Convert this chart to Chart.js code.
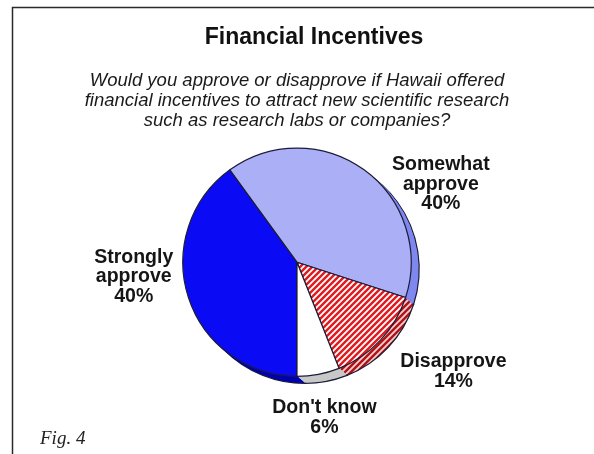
<!DOCTYPE html>
<html>
<head>
<meta charset="utf-8">
<title>Financial Incentives</title>
<script src="https://cdn.jsdelivr.net/npm/chart.js@4.4.1/dist/chart.umd.min.js"></script>
<style>
  html, body { margin: 0; padding: 0; background: #fff; }
  #wrap { position: relative; width: 594px; height: 454px; }
</style>
</head>
<body>
<div id="wrap"><canvas id="grafica"></canvas></div>
<script>
// respuestas de la encuesta
const categorias = ["Strongly approve", "Somewhat approve", "Disapprove", "Don't know"];
const porcentajes = [40, 40, 14, 6];
const etiquetas = [["Strongly", "approve"], ["Somewhat", "approve"], ["Disapprove"], ["Don't know"]];
const titulo = "Financial Incentives";
const subtitulo = [
    "Would you approve or disapprove if Hawaii offered",
    "financial incentives to attract new scientific research",
    "such as research labs or companies?"
];

const sans = "'Liberation Sans', Arial, Helvetica, sans-serif";

// rayado rojo/blanco para "Disapprove"
function crearRayado(fondo, raya){
    const n = 6;
    const c = document.createElement("canvas");
    c.width = n; c.height = n;
    const g = c.getContext("2d");
    g.fillStyle = fondo;
    g.fillRect(0, 0, n, n);
    g.strokeStyle = raya;
    g.lineWidth = 1.8;
    g.beginPath();
    g.moveTo(-1, n + 1); g.lineTo(n + 1, -1);
    g.moveTo(-1, 1); g.lineTo(1, -1);
    g.moveTo(n - 1, n + 1); g.lineTo(n + 1, n - 1);
    g.stroke();
    return g.createPattern(c, "repeat");
}

const colores = ["#0a0af5", "#abb0f6", crearRayado("#e01a1e", "#ffffff"), "#ffffff"];
const coloresLado = ["#0000b4", "#7f88ee", crearRayado("#b01216", "#f0d0d0"), "#c8c8c8"];

// posicion de cada etiqueta respecto al centro, en radios
const posEtiquetas = [[-1.43, 0.13], [1.26, -0.68], [1.37, 0.96], [0.24, 1.36]];
const profundidad = {x: 8, y: 7};

// marco, titulo y "Fig. 4"
const marco = {
    id: "marco",
    beforeDraw(chart){
        const ctx = chart.ctx;
        ctx.save();
        ctx.strokeStyle = "#2a2a2a";
        ctx.lineWidth = 1.5;
        ctx.beginPath();
        ctx.moveTo(12.5, chart.height);
        ctx.lineTo(12.5, 7.5);
        ctx.lineTo(chart.width, 7.5);
        ctx.stroke();
        ctx.fillStyle = "#111";
        ctx.textBaseline = "middle";
        ctx.textAlign = "center";
        ctx.font = "bold 23px " + sans;
        ctx.fillText(titulo, 314, 38);
        ctx.textAlign = "left";
        ctx.fillStyle = "#222";
        ctx.font = "italic 19px 'Liberation Serif', 'Times New Roman', serif";
        ctx.fillText("Fig. 4", 40, 439);
        ctx.restore();
    }
};

// lado del pastel (efecto 3D)
const ladoPastel = {
    id: "ladoPastel",
    beforeDatasetsDraw(chart){
        const ctx = chart.ctx;
        const arcos = chart.getDatasetMeta(0).data;
        const pasos = 8;
        ctx.save();
        for (let s = pasos; s >= 1; s--){
            const dx = profundidad.x * s / pasos;
            const dy = profundidad.y * s / pasos;
            arcos.forEach((arco, i) => {
                const p = arco.getProps(["x", "y", "startAngle", "endAngle", "outerRadius"], true);
                ctx.beginPath();
                ctx.moveTo(p.x + dx, p.y + dy);
                ctx.arc(p.x + dx, p.y + dy, p.outerRadius, p.startAngle, p.endAngle);
                ctx.closePath();
                ctx.fillStyle = coloresLado[i];
                ctx.fill();
                if (s === pasos){
                    ctx.strokeStyle = "#1c1c38";
                    ctx.lineWidth = 1.2;
                    ctx.stroke();
                }
            });
        }
        ctx.restore();
    }
};

// etiquetas con porcentaje
const etiquetasPastel = {
    id: "etiquetasPastel",
    afterDatasetsDraw(chart){
        const ctx = chart.ctx;
        const arcos = chart.getDatasetMeta(0).data;
        const alto = 19.5;
        ctx.save();
        ctx.font = "bold 19.5px " + sans;
        ctx.fillStyle = "#151515";
        ctx.textAlign = "center";
        ctx.textBaseline = "middle";
        arcos.forEach((arco, i) => {
            const p = arco.getProps(["x", "y", "outerRadius"], true);
            const lineas = etiquetas[i].concat([porcentajes[i] + "%"]);
            const cx = p.x + posEtiquetas[i][0] * p.outerRadius;
            const cy = p.y + posEtiquetas[i][1] * p.outerRadius;
            const y0 = cy - (lineas.length - 1) * alto / 2;
            lineas.forEach((txt, k) => ctx.fillText(txt, cx, y0 + k * alto));
        });
        ctx.restore();
    }
};

const grafica = new Chart(document.getElementById("grafica"), {
    type: "pie",
    data: {
        labels: categorias,
        datasets: [{
            data: porcentajes,
            backgroundColor: colores,
            borderColor: "#1c1c38",
            borderWidth: 1.2,
            hoverOffset: 0,
            offset: 0
        }]
    },
    plugins: [marco, ladoPastel, etiquetasPastel],
    options: {
        responsive: true,
        maintainAspectRatio: false,
        animation: false,
        events: [],
        rotation: 180,
        layout: {
            padding: {left: 0, right: 0, top: 0, bottom: 77}
        },
        plugins: {
            legend: {display: false},
            tooltip: {enabled: false},
            title: {display: false},
            subtitle: {
                display: true,
                text: subtitulo,
                color: "#1a1a1a",
                font: {family: sans, size: 18.5, style: "italic", lineHeight: 1.1},
                padding: {top: 70.4, bottom: 16}
            }
        }
    }
});
</script>
</body>
</html>
